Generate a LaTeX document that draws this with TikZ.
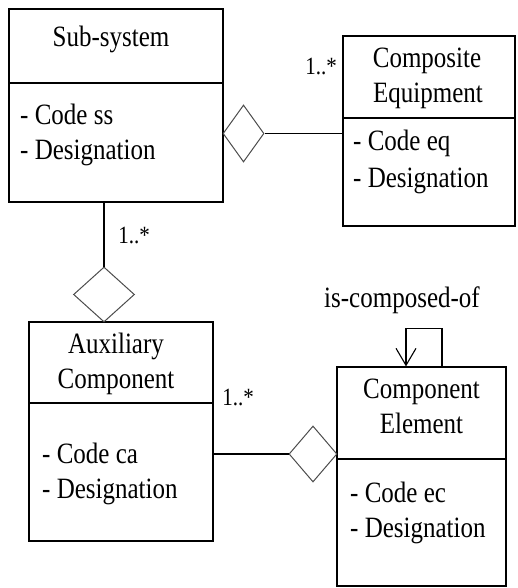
\documentclass[tikz,border=0pt]{standalone}
\usepackage{fontspec}
\setmainfont{Liberation Serif}
\usepackage{graphicx}
\usepackage{tikz}
\usetikzlibrary{shapes.geometric,arrows.meta,calc}

\newcommand{\talltext}[1]{\scalebox{1}[1.18]{#1}}

\begin{document}
\begin{tikzpicture}[
    x=1pt, y=-1pt,
    class/.style={rectangle, draw=black, line width=1.2pt, inner sep=0pt},
    divider/.style={draw=black, line width=1.2pt},
    agg/.style={diamond, draw=black!70, line width=1pt, inner sep=0pt},
    link/.style={draw=black, line width=1.1pt},
    selfarrow/.style={draw=black, line width=1.1pt, -{Straight Barb[length=17pt, width=20pt, line width=1.1pt]}},
    txt/.style={font=\fontsize{25}{30}\selectfont, inner sep=0pt},
    mult/.style={font=\fontsize{21}{25}\selectfont, inner sep=0pt}
]
    \useasboundingbox (0,0) rectangle (517,588);

    % Classes
    \node[class, minimum width=214pt, minimum height=193pt] (sub) at (116,105.5) {};
    \node[class, minimum width=172pt, minimum height=190pt] (comp) at (429,131) {};
    \node[class, minimum width=184pt, minimum height=219pt] (aux) at (121,431.5) {};
    \node[class, minimum width=169pt, minimum height=219pt] (elem) at (421.5,476.5) {};

    \draw[divider] (sub.west |- 0,83) -- (sub.east |- 0,83);
    \draw[divider] (comp.west |- 0,118) -- (comp.east |- 0,118);
    \draw[divider] (aux.west |- 0,403) -- (aux.east |- 0,403);
    \draw[divider] (elem.west |- 0,459) -- (elem.east |- 0,459);

    % Class names
    \node[txt, anchor=base] (subname) at (111,47) {\talltext{Sub-system}};
    \node[txt, anchor=base] (compname1) at (427,68) {\talltext{Composite}};
    \node[txt, anchor=base] (compname2) at (428,103) {\talltext{Equipment}};
    \node[txt, anchor=base] (auxname1) at (116,353) {\talltext{Auxiliary}};
    \node[txt, anchor=base] (auxname2) at (116,388) {\talltext{Component}};
    \node[txt, anchor=base] (elemname1) at (421.5,398) {\talltext{Component}};
    \node[txt, anchor=base] (elemname2) at (421.5,433) {\talltext{Element}};

    % Attributes
    \node[txt, anchor=base west] (subcode) at (20,125) {\talltext{- Code ss}};
    \node[txt, anchor=base west] (subdes) at (20,160) {\talltext{- Designation}};
    \node[txt, anchor=base west] (compcode) at (353,150) {\talltext{- Code eq}};
    \node[txt, anchor=base west] (compdes) at (353,187) {\talltext{- Designation}};
    \node[txt, anchor=base west] (auxcode) at (42,463) {\talltext{- Code ca}};
    \node[txt, anchor=base west] (auxdes) at (42,498) {\talltext{- Designation}};
    \node[txt, anchor=base west] (elemcode) at (350,502) {\talltext{- Code ec}};
    \node[txt, anchor=base west] (elemdes) at (350,537) {\talltext{- Designation}};

    % Aggregations
    \node[agg, minimum width=41pt, minimum height=57pt] (d1) at (243.5,133.5) {};
    \node[agg, minimum width=61pt, minimum height=55pt] (d2) at (104,294.5) {};
    \node[agg, minimum width=48pt, minimum height=56pt] (d3) at (313,454) {};

    \draw[link] (d1.east) -- (d1.east -| comp.west);
    \draw[link] (d2.north |- sub.south) -- (d2.north);
    \draw[link] (d3.west -| aux.east) -- (d3.west);

    % Multiplicities
    \node[mult] (m1) at (321,66) {\talltext{1..*}};
    \node[mult] (m2) at (134,235) {\talltext{1..*}};
    \node[mult] (m3) at (238,397) {\talltext{1..*}};

    % Self association
    \draw[selfarrow] ([xshift=20.5pt]elem.north) -- ++(0,-38) -| ([xshift=-15.5pt]elem.north);
    \node[txt, anchor=base] (selfname) at (402,307) {\talltext{is-composed-of}};
\end{tikzpicture}
\end{document}
